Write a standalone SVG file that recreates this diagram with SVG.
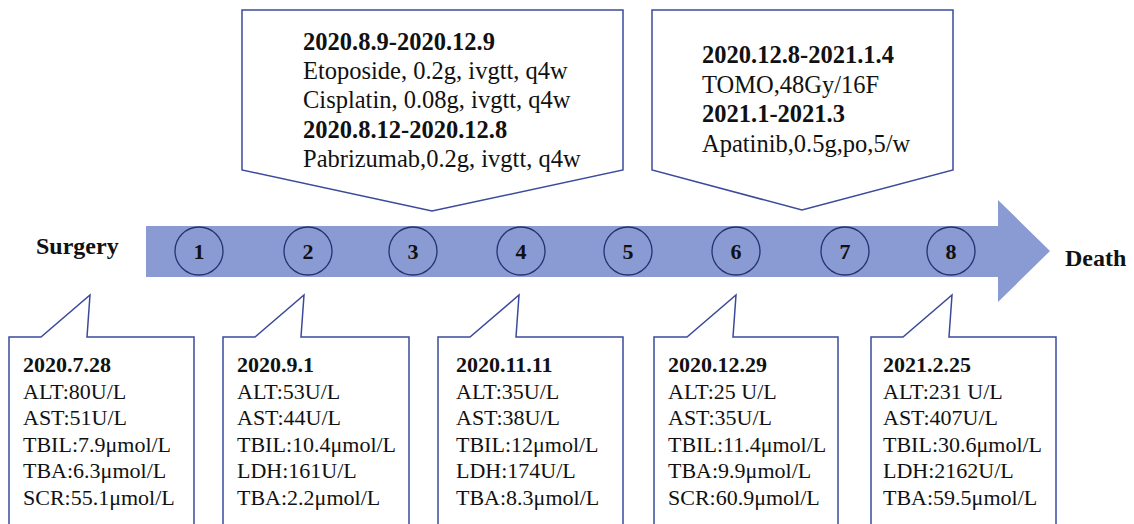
<svg xmlns="http://www.w3.org/2000/svg" width="1134" height="524" viewBox="0 0 1134 524">
<style>
.callout{fill:#ffffff;stroke:#3b4a9c;stroke-width:1.5;stroke-linejoin:miter}
.t{font-family:"Liberation Serif","Times New Roman",serif;fill:#111111}
.top{font-size:24.5px}
.bot{font-size:22px}
.b{font-weight:bold}
.mark{fill:none;stroke:#26326e;stroke-width:1.3}
.num{font-family:"Liberation Serif","Times New Roman",serif;font-weight:bold;font-size:22px;fill:#111111;text-anchor:middle}
.end{font-family:"Liberation Serif","Times New Roman",serif;font-weight:bold;font-size:24px;fill:#111111}
</style>
<rect width="1134" height="524" fill="#ffffff"/>
<g id="connectors">
<path id="timeline-arrow" d="M146,226 L998,226 L998,200 L1050,251 L998,302 L998,277 L146,277 Z" fill="#8a9ad3"/>
</g>
<g id="surgery"><text class="end" x="36" y="254">Surgery</text></g>
<g id="death"><text class="end" x="1065" y="266">Death</text></g>
<g id="m1"><circle class="mark" cx="199" cy="251" r="24"/><text class="num" x="199" y="259">1</text></g>
<g id="m2"><circle class="mark" cx="308" cy="251" r="24"/><text class="num" x="308" y="259">2</text></g>
<g id="m3"><circle class="mark" cx="413" cy="251" r="24"/><text class="num" x="413" y="259">3</text></g>
<g id="m4"><circle class="mark" cx="521" cy="251" r="24"/><text class="num" x="521" y="259">4</text></g>
<g id="m5"><circle class="mark" cx="628" cy="251" r="24"/><text class="num" x="628" y="259">5</text></g>
<g id="m6"><circle class="mark" cx="736" cy="251" r="24"/><text class="num" x="736" y="259">6</text></g>
<g id="m7"><circle class="mark" cx="845" cy="251" r="24"/><text class="num" x="845" y="259">7</text></g>
<g id="m8"><circle class="mark" cx="951" cy="251" r="24"/><text class="num" x="951" y="259">8</text></g>
<g id="chemo">
<path class="callout" d="M242,170 L242,10 L623,10 L623,170 L432,211 Z"/>
<text class="t top b" x="303" y="50">2020.8.9-2020.12.9</text>
<text class="t top" x="303" y="79">Etoposide, 0.2g, ivgtt, q4w</text>
<text class="t top" x="303" y="108">Cisplatin, 0.08g, ivgtt, q4w</text>
<text class="t top b" x="303" y="138">2020.8.12-2020.12.8</text>
<text class="t top" x="303" y="167">Pabrizumab,0.2g, ivgtt, q4w</text>
</g>
<g id="radio">
<path class="callout" d="M652,170 L652,10 L953,10 L953,170 L802,210 Z"/>
<text class="t top b" x="702" y="63">2020.12.8-2021.1.4</text>
<text class="t top" x="702" y="92.5">TOMO,48Gy/16F</text>
<text class="t top b" x="702" y="122">2021.1-2021.3</text>
<text class="t top" x="702" y="151.5">Apatinib,0.5g,po,5/w</text>
</g>
<g id="lab1">
<path class="callout" d="M9,530 L9,337 L41,337 L90,295 L87,337 L194,337 L194,530"/>
<text class="t bot b" x="23" y="372">2020.7.28</text>
<text class="t bot" x="23" y="398.5">ALT:80U/L</text>
<text class="t bot" x="23" y="425">AST:51U/L</text>
<text class="t bot" x="23" y="451.5">TBIL:7.9μmol/L</text>
<text class="t bot" x="23" y="478">TBA:6.3μmol/L</text>
<text class="t bot" x="23" y="504.5">SCR:55.1μmol/L</text>
</g>
<g id="lab2">
<path class="callout" d="M223,530 L223,337 L255,337 L304,295 L301,337 L409,337 L409,530"/>
<text class="t bot b" x="237" y="372">2020.9.1</text>
<text class="t bot" x="237" y="398.5">ALT:53U/L</text>
<text class="t bot" x="237" y="425">AST:44U/L</text>
<text class="t bot" x="237" y="451.5">TBIL:10.4μmol/L</text>
<text class="t bot" x="237" y="478">LDH:161U/L</text>
<text class="t bot" x="237" y="504.5">TBA:2.2μmol/L</text>
</g>
<g id="lab3">
<path class="callout" d="M438,530 L438,337 L470,337 L519,295 L516,337 L623,337 L623,530"/>
<text class="t bot b" x="456" y="372">2020.11.11</text>
<text class="t bot" x="456" y="398.5">ALT:35U/L</text>
<text class="t bot" x="456" y="425">AST:38U/L</text>
<text class="t bot" x="456" y="451.5">TBIL:12μmol/L</text>
<text class="t bot" x="456" y="478">LDH:174U/L</text>
<text class="t bot" x="456" y="504.5">TBA:8.3μmol/L</text>
</g>
<g id="lab4">
<path class="callout" d="M654,530 L654,337 L687,337 L736,295 L733,337 L838,337 L838,530"/>
<text class="t bot b" x="668" y="372">2020.12.29</text>
<text class="t bot" x="668" y="398.5">ALT:25 U/L</text>
<text class="t bot" x="668" y="425">AST:35U/L</text>
<text class="t bot" x="668" y="451.5">TBIL:11.4μmol/L</text>
<text class="t bot" x="668" y="478">TBA:9.9μmol/L</text>
<text class="t bot" x="668" y="504.5">SCR:60.9μmol/L</text>
</g>
<g id="lab5">
<path class="callout" d="M871,530 L871,337 L903,337 L952,295 L949,337 L1056,337 L1056,530"/>
<text class="t bot b" x="883" y="372">2021.2.25</text>
<text class="t bot" x="883" y="398.5">ALT:231 U/L</text>
<text class="t bot" x="883" y="425">AST:407U/L</text>
<text class="t bot" x="883" y="451.5">TBIL:30.6μmol/L</text>
<text class="t bot" x="883" y="478">LDH:2162U/L</text>
<text class="t bot" x="883" y="504.5">TBA:59.5μmol/L</text>
</g>
</svg>
